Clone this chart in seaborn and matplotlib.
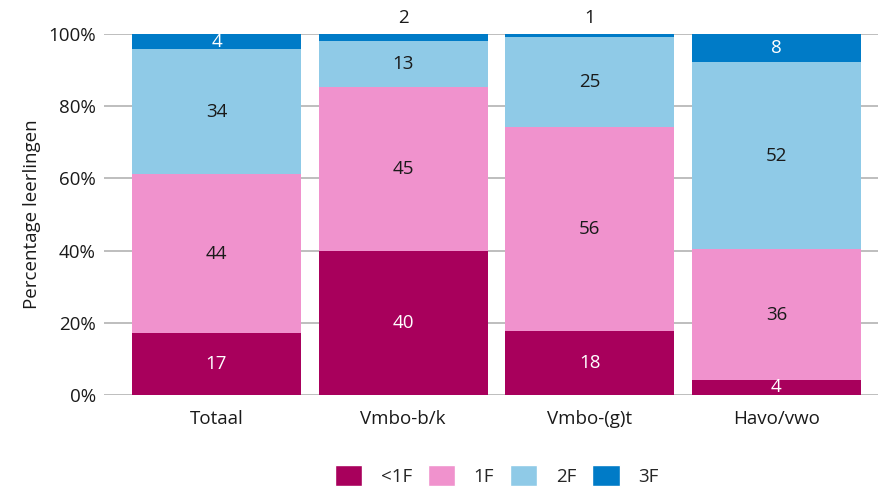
import numpy as np
import pandas as pd
import seaborn as sns
import matplotlib.pyplot as plt
from matplotlib.patches import Patch

groups = ["Totaal", "Vmbo-b/k", "Vmbo-(g)t", "Havo/vwo"]
levels = ["<1F", "1F", "2F", "3F"]
# shares per level (percent)
lt1f = [17.2, 39.9, 17.7, 4.2]
f1 = [44.0, 45.4, 56.5, 36.2]
f2 = [34.6, 12.8, 25.0, 51.8]
f3 = [4.2, 1.9, 0.8, 7.8]
labels = [[17, 40, 18, 4], [44, 45, 56, 36], [34, 13, 25, 52], [4, 2, 1, 8]]

colors = ["#a8005c", "#f092cd", "#8fcae7", "#007bc7"]
text_colors = ["white", "#1a1a1a", "#1a1a1a", "white"]

sns.set_theme(style="white")
plt.rcParams["font.family"] = ["Open Sans", "DejaVu Sans"]
fs = 13.5

d = pd.DataFrame({"group": groups, "<1F": lt1f, "1F": f1, "2F": f2, "3F": f3})
cum = d[levels].cumsum(axis=1)

fig = plt.figure(figsize=(8.79, 4.88), dpi=100)
ax = fig.add_axes([0.1183, 0.1906, 0.8817, 0.7394])

for y in range(0, 101, 20):
    ax.axhline(y, color="#b3b3b3", lw=1.2, zorder=0)

# stacked bars: draw top cumulative first, then overlay lower ones
for i in reversed(range(len(levels))):
    sns.barplot(x=d["group"], y=cum[levels[i]], color=colors[i], width=0.905,
                saturation=1, linewidth=0, ax=ax, zorder=2)

for i, lev in enumerate(levels):
    for j in range(len(groups)):
        val = d[lev][j]
        mid = cum[lev][j] - val / 2
        if val < 3:
            ax.text(j, 104.5, str(labels[i][j]), ha="center", va="center",
                    fontsize=fs, color="#1a1a1a")
        else:
            ax.text(j, mid, str(labels[i][j]), ha="center", va="center",
                    fontsize=fs, color=text_colors[i], zorder=3)

ax.set_xlim(-0.603, 3.55)
ax.set_ylim(0, 100)
ax.set_yticks(range(0, 101, 20))
ax.set_yticklabels([f"{v}%" for v in range(0, 101, 20)])
ax.tick_params(axis="both", length=0, labelsize=fs, colors="#1a1a1a")
ax.tick_params(axis="x", pad=11)
ax.tick_params(axis="y", pad=6)
ax.set_xlabel("")
ax.set_ylabel("Percentage leerlingen", fontsize=fs, color="#1a1a1a", labelpad=5)
sns.despine(ax=ax, left=True, bottom=True)

handles = [Patch(facecolor=c, label=l) for c, l in zip(colors, levels)]
fig.legend(handles=handles, loc="lower center", bbox_to_anchor=(0.565, -0.012),
           ncol=4, frameon=False, fontsize=fs, handlelength=1.45, handleheight=1.4,
           handletextpad=1.0, columnspacing=0.85, borderaxespad=0)

fig.savefig("out.png", dpi=100)
